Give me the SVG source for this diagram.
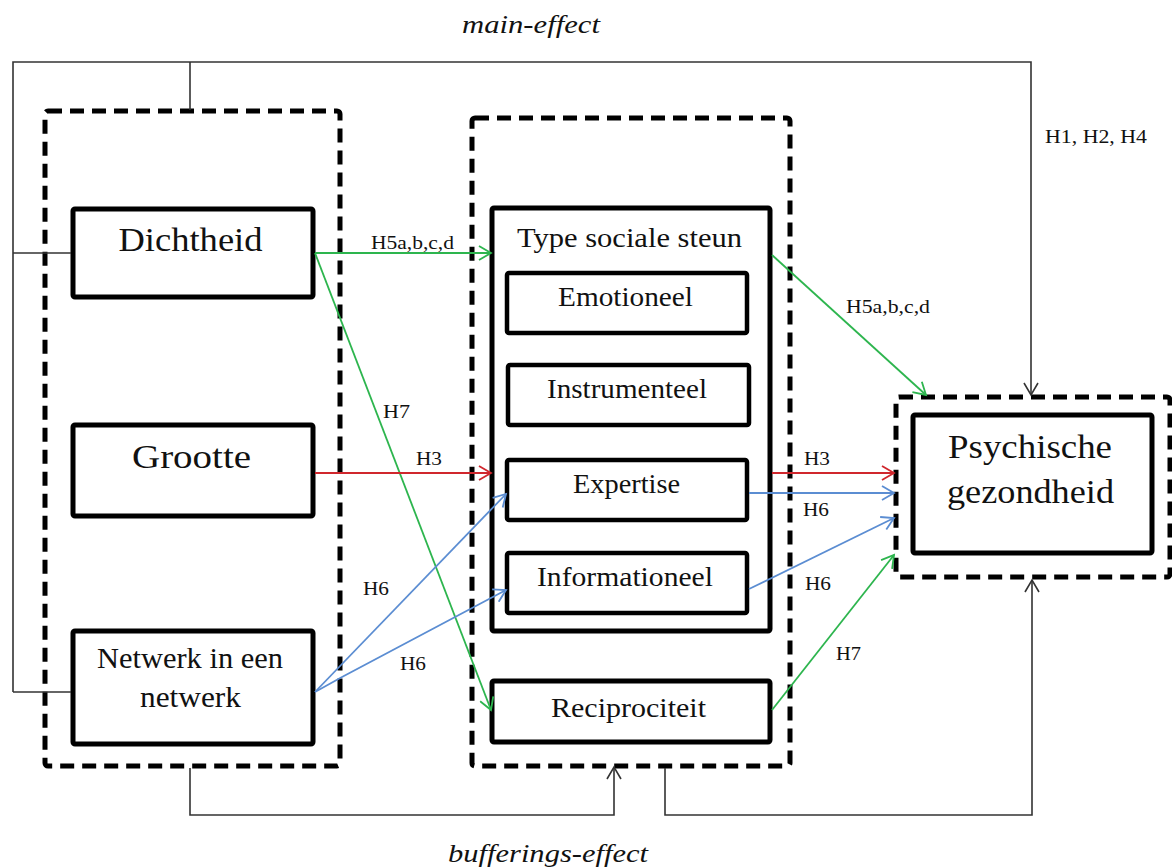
<svg xmlns="http://www.w3.org/2000/svg" width="1172" height="868" viewBox="0 0 1172 868">
<style>
  .dash { fill: none; stroke: #000; stroke-width: 5; stroke-dasharray: 14 8; }
  .box { fill: #fff; stroke: #000; stroke-width: 5; }
  .inner { fill: #fff; stroke: #000; stroke-width: 4.5; }
  .t { font-family: "Liberation Serif", "Times New Roman", serif; fill: #111; text-anchor: middle; }
  .big { font-size: 33px; }
  .mid { font-size: 27px; }
  .lbl { font-family: "Liberation Serif", "Times New Roman", serif; font-size: 18px; fill: #111; }
  .it { font-family: "Liberation Serif", "Times New Roman", serif; font-style: italic; font-size: 26px; fill: #111; text-anchor: middle; }
  .k { fill: none; stroke: #333; stroke-width: 1.6; }
  .g { fill: none; stroke: #2db54e; stroke-width: 1.8; }
  .r { fill: none; stroke: #d0272d; stroke-width: 1.8; }
  .b { fill: none; stroke: #5b8dd2; stroke-width: 1.8; }
</style>
<defs>
  <marker id="ak" markerWidth="16" markerHeight="16" refX="13" refY="8" orient="auto" markerUnits="userSpaceOnUse"><path d="M1,1 L13,8 L1,15" fill="none" stroke="#333" stroke-width="1.6"/></marker>
  <marker id="ag" markerWidth="16" markerHeight="16" refX="13" refY="8" orient="auto" markerUnits="userSpaceOnUse"><path d="M1,1 L13,8 L1,15" fill="none" stroke="#2db54e" stroke-width="1.8"/></marker>
  <marker id="ar" markerWidth="16" markerHeight="16" refX="13" refY="8" orient="auto" markerUnits="userSpaceOnUse"><path d="M1,1 L13,8 L1,15" fill="none" stroke="#d0272d" stroke-width="1.8"/></marker>
  <marker id="ab" markerWidth="16" markerHeight="16" refX="13" refY="8" orient="auto" markerUnits="userSpaceOnUse"><path d="M1,1 L13,8 L1,15" fill="none" stroke="#5b8dd2" stroke-width="1.8"/></marker>
</defs>
<rect width="1172" height="868" fill="#fff"/>

<g id="titles">
  <text class="it" x="531" y="33" textLength="138" lengthAdjust="spacingAndGlyphs">main-effect</text>
  <text class="it" x="548" y="862" textLength="200" lengthAdjust="spacingAndGlyphs">bufferings-effect</text>
</g>

<g id="group-netwerk-kenmerken">
  <rect class="dash" x="45" y="111" width="295" height="655" rx="3"/>
</g>
<g id="node-dichtheid">
  <rect class="box" x="73" y="209" width="240" height="88" rx="2"/>
  <text class="t big" x="190.5" y="251" textLength="144" lengthAdjust="spacingAndGlyphs">Dichtheid</text>
</g>
<g id="node-grootte">
  <rect class="box" x="73" y="425" width="240" height="91" rx="2"/>
  <text class="t big" x="191.5" y="468" textLength="119" lengthAdjust="spacingAndGlyphs">Grootte</text>
</g>
<g id="node-netwerk">
  <rect class="box" x="73" y="631" width="240" height="113" rx="2"/>
  <text class="t" font-size="30" x="190" y="668" textLength="186" lengthAdjust="spacingAndGlyphs">Netwerk in een</text>
  <text class="t" font-size="30" x="190.5" y="707" textLength="101" lengthAdjust="spacingAndGlyphs">netwerk</text>
</g>

<g id="group-steun">
  <rect class="dash" x="472" y="118" width="318" height="648" rx="3"/>
</g>
<g id="node-type">
  <rect class="box" x="492" y="208" width="278" height="423" rx="2"/>
  <text class="t mid" x="629.5" y="247" textLength="225" lengthAdjust="spacingAndGlyphs">Type sociale steun</text>
</g>
<g id="node-emotioneel">
  <rect class="inner" x="507" y="273" width="240" height="60" rx="2"/>
  <text class="t mid" x="625.5" y="306" textLength="135" lengthAdjust="spacingAndGlyphs">Emotioneel</text>
</g>
<g id="node-instrumenteel">
  <rect class="inner" x="508" y="365" width="241" height="60" rx="2"/>
  <text class="t mid" x="627" y="398" textLength="160" lengthAdjust="spacingAndGlyphs">Instrumenteel</text>
</g>
<g id="node-expertise">
  <rect class="inner" x="507" y="460" width="240" height="60" rx="2"/>
  <text class="t mid" x="626.5" y="493" textLength="107" lengthAdjust="spacingAndGlyphs">Expertise</text>
</g>
<g id="node-informationeel">
  <rect class="inner" x="507" y="553" width="240" height="60" rx="2"/>
  <text class="t mid" x="625" y="586" textLength="176" lengthAdjust="spacingAndGlyphs">Informationeel</text>
</g>
<g id="node-reciprociteit">
  <rect class="box" x="492" y="681" width="278" height="61" rx="2"/>
  <text class="t mid" x="628.5" y="717" textLength="155" lengthAdjust="spacingAndGlyphs">Reciprociteit</text>
</g>

<g id="node-psychische">
  <rect class="dash" x="896" y="397" width="274" height="180" rx="3"/>
  <rect class="box" x="913" y="415" width="239" height="138" rx="2"/>
  <text class="t big" x="1030" y="458" textLength="164" lengthAdjust="spacingAndGlyphs">Psychische</text>
  <text class="t big" x="1030.5" y="503" textLength="167" lengthAdjust="spacingAndGlyphs">gezondheid</text>
</g>

<g id="connectors">
  <!-- main effect -->
  <polyline class="k" points="13,692 13,62 1031,62 1031,395" marker-end="url(#ak)"/>
  <line class="k" x1="190" y1="62" x2="190" y2="110"/>
  <line class="k" x1="13" y1="692" x2="71" y2="692"/>
  <line class="k" x1="13" y1="253" x2="71" y2="253"/>
  <!-- buffering effect -->
  <polyline class="k" points="190,768 190,815 614,815 614,767" marker-end="url(#ak)"/>
  <polyline class="k" points="665,768 665,815 1032,815 1032,580" marker-end="url(#ak)"/>
  <!-- green -->
  <line class="g" x1="315" y1="253" x2="491" y2="253" marker-end="url(#ag)"/>
  <line class="g" x1="315" y1="253" x2="491" y2="710" marker-end="url(#ag)"/>
  <line class="g" x1="772" y1="255" x2="926" y2="395" marker-end="url(#ag)"/>
  <line class="g" x1="772" y1="710" x2="894" y2="555" marker-end="url(#ag)"/>
  <!-- red -->
  <line class="r" x1="315" y1="473" x2="491" y2="473" marker-end="url(#ar)"/>
  <line class="r" x1="772" y1="473" x2="894" y2="473" marker-end="url(#ar)"/>
  <!-- blue -->
  <line class="b" x1="315" y1="692" x2="506" y2="494" marker-end="url(#ab)"/>
  <polyline class="b" points="315,692 342,677 506,590" marker-end="url(#ab)"/>
  <line class="b" x1="749" y1="493" x2="894" y2="493" marker-end="url(#ab)"/>
  <line class="b" x1="749" y1="589" x2="894" y2="518" marker-end="url(#ab)"/>
  <!-- labels -->
  <text class="lbl" x="371" y="249" textLength="83" lengthAdjust="spacingAndGlyphs">H5a,b,c,d</text>
  <text class="lbl" x="383" y="418" textLength="27" lengthAdjust="spacingAndGlyphs">H7</text>
  <text class="lbl" x="416" y="465" textLength="26" lengthAdjust="spacingAndGlyphs">H3</text>
  <text class="lbl" x="363" y="595" textLength="26" lengthAdjust="spacingAndGlyphs">H6</text>
  <text class="lbl" x="400" y="670" textLength="26" lengthAdjust="spacingAndGlyphs">H6</text>
  <text class="lbl" x="846" y="313" textLength="84" lengthAdjust="spacingAndGlyphs">H5a,b,c,d</text>
  <text class="lbl" x="804" y="465" textLength="26" lengthAdjust="spacingAndGlyphs">H3</text>
  <text class="lbl" x="803" y="516" textLength="26" lengthAdjust="spacingAndGlyphs">H6</text>
  <text class="lbl" x="805" y="590" textLength="26" lengthAdjust="spacingAndGlyphs">H6</text>
  <text class="lbl" x="836" y="660" textLength="25" lengthAdjust="spacingAndGlyphs">H7</text>
  <text class="lbl" x="1045" y="143" textLength="102" lengthAdjust="spacingAndGlyphs">H1, H2, H4</text>
</g>
</svg>
